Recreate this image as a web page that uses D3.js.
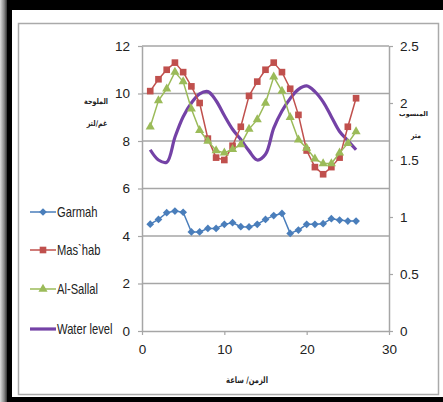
<!DOCTYPE html>
<html>
<head>
<meta charset="utf-8">
<script src="https://cdn.jsdelivr.net/npm/d3@7"></script>
<style>
  html, body { margin: 0; padding: 0; background: #fff; }
  svg { display: block; }
  text { font-family: "Liberation Sans", Arial, sans-serif; fill: #222; }
  .ar { font-family: "DejaVu Sans", sans-serif; font-weight: bold; }
</style>
</head>
<body>
<svg id="chart" width="443" height="402"></svg>
<script>
// hours on the x axis
const hours = [1, 2, 3, 4, 5, 6, 7, 8, 9, 10, 11, 12, 13, 14, 15, 16, 17, 18, 19, 20, 21, 22, 23, 24, 25, 26];

// salinity, g/l (left axis)
const garmah = [4.5, 4.7, 4.98, 5.05, 5.0, 4.17, 4.17, 4.32, 4.32, 4.49, 4.56, 4.39, 4.38, 4.49, 4.7, 4.86, 4.95, 4.11, 4.25, 4.49, 4.49, 4.52, 4.73, 4.67, 4.63, 4.63];
const mashab = [10.1, 10.6, 11.0, 11.3, 10.9, 10.3, 9.6, 8.1, 7.3, 7.2, 7.8, 8.6, 9.9, 10.5, 11.0, 11.3, 10.9, 10.2, 9.1, 7.6, 6.9, 6.6, 6.9, 7.3, 8.6, 9.8];
const sallal = [8.6, 9.7, 10.2, 10.9, 10.5, 9.35, 8.45, 8.0, 7.6, 7.5, 7.65, 7.85, 8.5, 8.9, 9.6, 10.7, 10.1, 9.0, 8.05, 7.7, 7.25, 7.05, 7.05, 7.5, 7.9, 8.4];

// water level, m (right axis)
const waterLevel = [1.59, 1.5, 1.48, 1.7, 1.88, 2.0, 2.08, 2.1, 2.02, 1.89, 1.77, 1.68, 1.58, 1.5, 1.55, 1.78, 1.93, 2.04, 2.12, 2.15, 2.1, 2.01, 1.88, 1.75, 1.67, 1.59];

const xTicks = [0, 10, 20, 30];
const leftTicks = [0, 2, 4, 6, 8, 10, 12];
const rightTicks = [0, 0.5, 1, 1.5, 2, 2.5];

const svg = d3.select('#chart');

// frame around the picture
const defs = svg.append('defs');
const grad = defs.append('linearGradient').attr('id', 'edge').attr('x1', 0).attr('x2', 1);
grad.append('stop').attr('offset', 0).attr('stop-color', '#ddd');
grad.append('stop').attr('offset', 0.6).attr('stop-color', '#888');
grad.append('stop').attr('offset', 1).attr('stop-color', '#333');

svg.append('rect').attr('x', 0).attr('y', 0).attr('width', 443).attr('height', 402).attr('fill', '#000');
svg.append('rect').attr('x', 0).attr('y', 0).attr('width', 7).attr('height', 402).attr('fill', 'url(#edge)');
svg.append('rect').attr('x', 12).attr('y', 10).attr('width', 431).attr('height', 387).attr('fill', '#fff');
svg.append('rect').attr('x', 18.5).attr('y', 23.5).attr('width', 420).attr('height', 371)
  .attr('fill', 'none').attr('stroke', '#aaa').attr('stroke-width', 1.5);

let x = d3.scaleLinear().domain([0, 30]).range([142, 389]),
    yL = d3.scaleLinear().domain([0, 12]).range([331, 46]),
    yR = d3.scaleLinear().domain([0, 2.5]).range([331, 46]);

// the original uses a condensed font, so squeeze text sideways
function narrowText (parent, cx, cy, str, size, sx, anchor, cls) {
  return parent.append('text')
    .attr('class', cls || null)
    .attr('transform', `translate(${cx},${cy}) scale(${sx},1)`)
    .attr('font-size', size)
    .attr('text-anchor', anchor || 'middle')
    .text(str);
}

// gridlines
svg.append('g').selectAll('line')
  .data(leftTicks.slice(1))
  .enter().append('line')
    .attr('x1', x(0)).attr('x2', x(30))
    .attr('y1', d => yL(d)).attr('y2', d => yL(d))
    .attr('stroke', '#a6a6a6').attr('stroke-width', 1.5);

function styleAxis (g) {
  g.select('.domain').attr('stroke', '#a6a6a6').attr('stroke-width', 1.5);
  g.selectAll('.tick line').attr('stroke', '#a6a6a6').attr('stroke-width', 1.2);
  g.selectAll('.tick text').attr('font-size', 13.5).attr('fill', '#222')
    .attr('font-family', '"Liberation Sans", Arial, sans-serif');
}

svg.append('g')
  .attr('transform', `translate(${x(0)},0)`)
  .call(d3.axisLeft(yL).tickValues(leftTicks).tickSize(4).tickSizeOuter(0).tickPadding(8))
  .call(styleAxis);

svg.append('g')
  .attr('transform', `translate(${x(30)},0)`)
  .call(d3.axisRight(yR).tickValues(rightTicks).tickFormat(d3.format('~g')).tickSize(4).tickSizeOuter(0).tickPadding(7))
  .call(styleAxis);

svg.append('g')
  .attr('transform', `translate(0,${yL(0)})`)
  .call(d3.axisBottom(x).tickValues(xTicks).tickSize(4).tickSizeOuter(0).tickPadding(9))
  .call(styleAxis);

// axis titles
narrowText(svg, 96, 104, 'الملوحة', 8, 0.8, 'middle', 'ar');
narrowText(svg, 97, 126, 'غم/لتر', 8, 0.8, 'middle', 'ar');
svg.append('text').attr('class', 'ar')
  .attr('x', 428).attr('y', 116)
  .attr('font-size', 6.5)
  .attr('text-anchor', 'end')
  .text('المنسوب');
narrowText(svg, 416, 138, 'متر', 7.5, 0.8, 'middle', 'ar');
narrowText(svg, 247, 383, 'الزمن/ ساعة', 9, 0.75, 'middle', 'ar');

// excel style diamond (a square turned on its corner)
const diamond = {
  draw (ctx, size) {
    let r = Math.sqrt(size / 2);
    ctx.moveTo(0, -r); ctx.lineTo(r, 0); ctx.lineTo(0, r); ctx.lineTo(-r, 0); ctx.closePath();
  }
};

const series = [
  { name: 'Garmah', values: garmah, color: '#4a7ebb', symbol: diamond, size: 30, y: yL, smooth: false, width: 1.5 },
  { name: 'Mas`hab', values: mashab, color: '#c0504d', symbol: d3.symbolSquare, size: 44, y: yL, smooth: false, width: 1.5 },
  { name: 'Al-Sallal', values: sallal, color: '#9bbb59', symbol: d3.symbolTriangle, size: 36, y: yL, smooth: false, width: 1.5 },
  { name: 'Water level', values: waterLevel, color: '#7442a6', symbol: null, y: yR, smooth: true, width: 3.2 }
];

// draw the water level first so the salinity markers sit on top of it
[series[3], series[0], series[1], series[2]].forEach(s => {
  let line = d3.line()
    .x((d, i) => x(hours[i]))
    .y(d => s.y(d))
    .curve(s.smooth ? d3.curveCatmullRom.alpha(0.5) : d3.curveLinear);

  svg.append('path')
    .datum(s.values)
    .attr('d', line)
    .attr('fill', 'none')
    .attr('stroke', s.color)
    .attr('stroke-width', s.width)
    .attr('stroke-linejoin', 'round');

  if ( s.symbol ) {
    svg.append('g').selectAll('path')
      .data(s.values)
      .enter().append('path')
        .attr('d', d3.symbol().type(s.symbol).size(s.size))
        .attr('transform', (d, i) => `translate(${x(hours[i])},${s.y(d)})`)
        .attr('fill', s.color);
  }
});

// legend
let legend = svg.append('g').selectAll('g')
  .data(series)
  .enter().append('g')
    .attr('transform', (d, i) => `translate(30,${[212, 250, 289, 329][i]})`);

legend.append('line')
  .attr('x1', 0).attr('x2', 26)
  .attr('stroke', d => d.color)
  .attr('stroke-width', d => d.width);

legend.filter(d => d.symbol).append('path')
  .attr('d', d => d3.symbol().type(d.symbol).size(d.size)())
  .attr('transform', 'translate(13,0)')
  .attr('fill', d => d.color);

legend.each(function (d) {
  narrowText(d3.select(this), 27, 5, d.name, 14, 0.8, 'start');
});
</script>
</body>
</html>
